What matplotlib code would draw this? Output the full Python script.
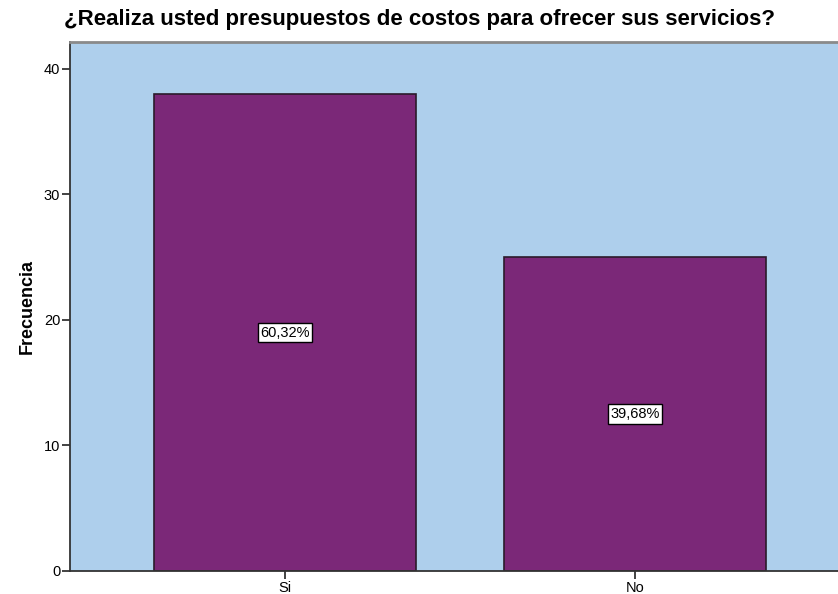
import matplotlib
matplotlib.use("Agg")
import matplotlib.pyplot as plt

categories = ["Si", "No"]
counts = [38, 25]
percent_labels = ["60,32%", "39,68%"]
yticks = [0, 10, 20, 30, 40]

plt.rcParams["font.family"] = ["Liberation Sans", "DejaVu Sans"]

W, H = 838, 594
fig = plt.figure(figsize=(W / 100, H / 100), dpi=100)
ax = fig.add_axes([70 / W, (H - 571) / H, (W - 70) / W, (571 - 42) / H])

ax.set_facecolor("#AECFEC")
x = list(range(len(categories)))
ax.bar(x, counts, width=0.75, color="#7B2878", edgecolor="#2B1A2B", linewidth=1.2, zorder=2)

for xi, c, lab in zip(x, counts, percent_labels):
    ax.text(xi, c / 2, lab, ha="center", va="center", fontsize=10.5, color="black", zorder=3,
            bbox=dict(boxstyle="square,pad=0.18", facecolor="white", edgecolor="black", linewidth=1.0))

ax.set_xlim(-0.614, 1.58)
ax.set_ylim(0, 42.15)
ax.set_xticks(x)
ax.set_xticklabels(categories, fontsize=10.5)
ax.set_yticks(yticks)
ax.set_yticklabels([str(t) for t in yticks], fontsize=10.5)
ax.tick_params(axis="both", length=6, width=1.2, color="#222222", pad=1)

for side in ["left", "bottom"]:
    ax.spines[side].set_color("#333333")
    ax.spines[side].set_linewidth(1.3)
ax.spines["top"].set_color("#8A8A8A")
ax.spines["top"].set_linewidth(2)
ax.spines["right"].set_visible(False)

ax.set_ylabel("Frecuencia", fontsize=13, fontweight="bold", labelpad=6)
fig.text(419 / W, 1 - 19 / H, "¿Realiza usted presupuestos de costos para ofrecer sus servicios?",
         ha="center", va="center", fontsize=16, fontweight="bold")

fig.savefig("out.png", dpi=100)
